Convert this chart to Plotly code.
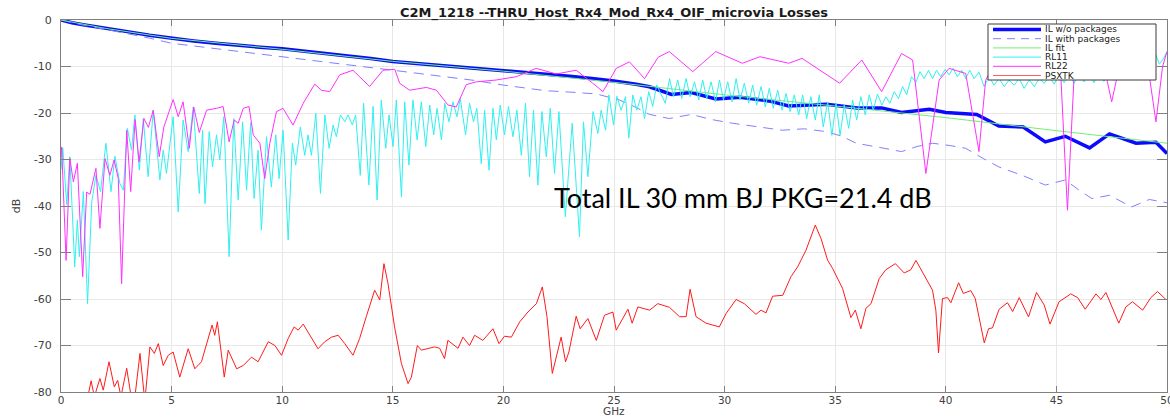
import plotly.graph_objects as go

TITLE = "C2M_1218 --THRU_Host_Rx4_Mod_Rx4_OIF_microvia Losses"
X_LABEL = "GHz"
Y_LABEL = "dB"
NOTE = "Total IL 30 mm BJ PKG=21.4 dB"
SERIES_NAMES = ["IL w/o packages", "IL with packages", "IL fit", "RL11", "RL22", "PSXTK"]
X_TICKS = [0, 5, 10, 15, 20, 25, 30, 35, 40, 45, 50]
Y_TICKS = [-80, -70, -60, -50, -40, -30, -20, -10, 0]
Y_TICK_TEXT = ["-80", "-70", "-60", "-50", "-40", "-30", "-20", "-10", "0"]

# (GHz, dB)
il_wo_pts = [(0, 0), (0.5, -0.6), (1, -1.0), (2, -1.7), (3, -2.5), (4, -3.3), (5, -3.95), (6, -4.5),
             (7, -5.0), (8, -5.5), (9, -5.85), (10, -6.2), (11, -6.7), (12, -7.2), (13, -7.7), (14, -8.3),
             (15, -8.9), (16, -9.3), (17, -9.7), (18, -10.1), (19, -10.5), (20, -10.9), (21, -11.3),
             (22, -11.6), (23, -12.1), (24, -12.6), (25, -13.1), (26, -13.8), (26.6, -14.35), (27.6, -16.0),
             (28.5, -15.6), (29.6, -17.0), (30.7, -16.6), (32.0, -17.4), (32.9, -18.5), (34.6, -18.1),
             (36.0, -18.9), (37.1, -18.9), (38.0, -19.9), (39.25, -19.2), (40.0, -19.9), (41.4, -20.3),
             (42.4, -22.8), (43.5, -23.0), (44.5, -26.2), (45.4, -25.0), (46.5, -27.5), (47.4, -24.5),
             (48.6, -26.5), (49.5, -26.3), (50, -28.7)]

il_with_pts = [(0, 0), (1, -1.1), (2, -2.0), (3, -2.9), (4, -3.9), (5, -5.0), (6, -5.6), (7, -6.2), (8, -6.8),
               (9, -7.4), (10, -7.9), (11, -8.5), (12.15, -9.2), (13.6, -10.0), (15, -10.8), (16.2, -11.5),
               (17.4, -12.2), (18.7, -13.0), (20, -14.0), (21.0, -14.6), (21.9, -15.2), (23.0, -15.5),
               (24.2, -15.9), (25.25, -17.2), (26.0, -18.8), (26.6, -20.3), (27.5, -21.2), (28.5, -20.3),
               (29.4, -21.4), (30.35, -22.2), (31.5, -23.0), (32.6, -23.7), (33.6, -23.4), (34.6, -24.0),
               (35.3, -25.0), (35.95, -26.5), (37.0, -27.4), (38.0, -28.3), (38.7, -27.2), (39.4, -26.5),
               (40.2, -27.0), (40.9, -27.6), (41.7, -29.8), (42.4, -31.6), (43.5, -33.5), (44.5, -35.5),
               (45.4, -34.4), (46.0, -36.5), (46.6, -38.4), (47.4, -37.7), (48.4, -40.2), (49.2, -38.6),
               (50, -39.3)]

il_fit_pts = [(0, 0), (2, -1.8), (5, -3.95), (10, -6.3), (15, -8.9), (20, -11.0), (25, -13.4), (30, -16.1),
              (35, -18.5), (40, -21.0), (45, -23.8), (50, -26.5)]

rl11_pts = [(0.0, -32.2), (0.08, -27.5), (0.26, -39.7), (0.4, -29.4), (0.62, -53.1), (0.74, -43.0),
            (0.83, -50.9), (1.01, -36.9), (1.2, -61.0), (1.39, -39.1), (1.58, -33.4), (1.79, -36.9),
            (2.03, -26.5), (2.26, -36.9), (2.44, -29.3), (2.66, -35.2), (2.82, -36.6), (3.0, -23.3),
            (3.19, -28.0), (3.34, -20.4), (3.54, -32.3), (3.72, -21.2), (3.94, -33.7), (4.17, -19.4),
            (4.47, -34.4), (4.62, -28.0), (4.77, -33.0), (5.07, -20.8), (5.3, -41.3), (5.52, -21.5),
            (5.75, -28.3), (5.98, -18.7), (6.25, -37.3), (6.4, -23.7), (6.51, -39.5), (6.7, -24.0),
            (6.85, -31.6), (7.03, -24.7), (7.18, -30.1), (7.36, -20.8), (7.6, -50.9), (7.81, -21.2),
            (8.01, -38.7), (8.21, -21.9), (8.39, -36.6), (8.57, -22.1), (8.73, -38.4), (8.91, -28.0),
            (9.06, -45.2), (9.29, -25.1), (9.51, -35.9), (9.71, -24.7), (9.86, -34.1), (10.04, -23.7),
            (10.27, -47.3), (10.46, -26.5), (10.61, -31.2), (10.82, -23.0), (11.02, -29.1), (11.17, -24.7),
            (11.32, -29.1), (11.52, -20.1), (11.73, -37.3), (11.93, -20.4), (12.12, -27.6), (12.3, -22.6),
            (12.45, -25.1), (12.63, -20.4), (12.83, -21.9), (12.98, -20.4), (13.17, -22.6), (13.32, -20.4),
            (13.53, -33.4), (13.68, -17.9), (13.92, -35.5), (14.11, -18.6), (14.29, -38.7), (14.48, -17.2),
            (14.68, -27.6), (14.83, -20.4), (15.01, -27.2), (15.16, -17.2), (15.39, -38.0), (15.54, -17.6),
            (15.73, -31.2), (15.91, -17.2), (16.1, -25.8), (16.29, -17.6), (16.49, -27.2), (16.67, -18.3),
            (16.85, -24.7), (17.0, -19.0), (17.2, -25.8), (17.35, -17.9), (17.54, -21.9), (17.72, -17.6),
            (17.9, -20.8), (18.05, -16.9), (18.29, -24.7), (18.47, -17.9), (18.65, -21.9), (18.8, -19.0),
            (19.0, -30.9), (19.15, -19.4), (19.35, -32.3), (19.53, -19.0), (19.68, -25.8), (19.86, -18.3),
            (20.05, -24.7), (20.23, -18.6), (20.43, -25.1), (20.61, -19.4), (20.81, -29.1), (21.0, -17.9),
            (21.18, -33.7), (21.36, -19.4), (21.56, -35.5), (21.74, -19.7), (21.94, -29.4), (22.12, -19.0),
            (22.31, -33.0), (22.51, -19.7), (22.8, -42.3), (23.11, -22.2), (23.44, -46.6), (23.62, -21.9),
            (23.82, -33.7), (24.05, -19.7), (24.27, -24.4), (24.42, -19.4), (24.62, -23.7), (24.77, -16.1),
            (24.98, -22.6), (25.13, -16.4), (25.32, -19.4), (25.52, -16.5), (25.67, -25.4), (25.85, -16.1),
            (26.03, -19.4), (26.22, -16.5), (26.38, -21.2), (26.57, -15.4), (26.75, -18.6), (26.93, -14.0),
            (27.32, -17.9), (27.51, -12.6), (27.69, -16.5), (27.88, -12.9), (28.06, -16.9), (28.26, -12.6),
            (28.44, -16.5), (28.64, -13.3), (28.83, -17.2), (29.01, -12.9), (29.19, -16.9), (29.39, -13.3),
            (29.59, -17.6), (29.77, -12.9), (29.95, -17.2), (30.14, -13.3), (30.34, -17.6), (30.52, -12.6),
            (30.7, -17.2), (30.89, -13.6), (31.09, -17.9), (31.27, -14.0), (31.45, -18.3), (31.65, -14.3),
            (31.84, -18.7), (32.02, -14.7), (32.2, -19.0), (32.4, -15.1), (32.6, -19.4), (32.78, -15.8),
            (32.96, -19.7), (33.15, -16.1), (33.35, -20.4), (33.53, -16.1), (33.71, -21.2), (33.9, -16.5),
            (34.1, -21.5), (34.28, -16.1), (34.46, -23.0), (34.66, -17.6), (34.85, -24.8), (35.04, -17.9),
            (35.22, -24.8), (35.41, -18.3), (35.61, -23.3), (35.79, -17.2), (35.97, -21.5), (36.16, -16.5),
            (36.36, -20.4), (36.54, -16.1), (36.72, -19.4), (36.91, -15.9), (37.11, -18.3), (37.29, -16.5),
            (37.47, -17.9), (37.67, -15.4), (37.86, -16.9), (38.05, -14.3), (38.23, -16.1), (38.45, -12.2),
            (38.65, -13.4), (38.83, -11.1), (39.02, -12.6), (39.22, -10.8), (39.4, -12.6), (39.58, -10.8),
            (39.77, -12.2), (39.97, -10.6), (40.15, -11.8), (40.33, -10.4), (40.52, -12.2), (40.72, -10.8),
            (40.9, -12.6), (41.08, -10.8), (41.28, -12.6), (41.5, -11.2), (41.73, -14.3), (41.96, -12.2),
            (42.18, -14.0), (42.41, -12.6), (42.64, -14.3), (42.86, -12.9), (43.09, -14.0), (43.32, -12.6),
            (43.54, -14.7), (43.77, -12.9), (44.0, -14.3), (44.22, -12.6), (44.45, -13.6), (44.67, -12.2),
            (44.9, -13.8), (45.12, -11.8), (45.35, -13.5), (45.57, -11.5), (45.8, -13.6), (46.02, -11.6),
            (46.25, -13.3), (46.48, -11.4), (46.7, -13.5), (46.93, -11.2), (47.15, -13.2), (47.38, -11.0),
            (47.6, -13.0), (47.83, -10.8), (48.05, -12.8), (48.28, -10.6), (48.5, -12.4), (48.73, -10.2),
            (48.95, -11.6), (49.2, -9.0), (49.35, -10.5), (49.5, -7.5), (49.65, -9.5), (49.8, -8.6),
            (50.0, -6.8)]

rl22_pts = [(0.0, -29.4), (0.03, -27.3), (0.23, -51.7), (0.4, -29.8), (0.56, -34.8), (0.74, -30.8),
            (0.98, -55.2), (1.16, -37.0), (1.31, -37.5), (1.58, -31.9), (1.76, -44.8), (1.99, -29.8),
            (2.21, -33.4), (2.4, -30.1), (2.59, -34.1), (2.74, -56.7), (2.97, -23.7), (3.15, -36.9),
            (3.35, -21.4), (3.53, -30.5), (3.75, -21.2), (3.95, -23.1), (4.17, -19.4), (4.44, -29.4),
            (4.65, -23.0), (5.07, -17.1), (5.3, -20.8), (5.52, -17.6), (5.8, -27.6), (6.0, -18.7),
            (6.25, -24.2), (6.58, -19.4), (7.03, -19.0), (7.33, -18.6), (7.6, -26.2), (7.83, -21.5),
            (8.01, -22.2), (8.24, -19.0), (8.5, -18.6), (8.69, -24.7), (8.99, -26.5), (9.21, -34.1),
            (9.44, -26.5), (9.74, -19.7), (10.04, -19.0), (10.49, -22.6), (10.95, -17.9), (11.47, -13.8),
            (11.77, -15.1), (12.15, -15.4), (12.6, -11.8), (13.2, -10.8), (13.95, -14.3), (14.56, -10.8),
            (15.09, -10.6), (15.31, -13.6), (15.76, -15.1), (16.52, -14.5), (16.97, -15.1), (17.5, -18.3),
            (17.87, -18.7), (18.32, -13.9), (18.77, -13.3), (19.68, -12.9), (20.58, -12.2), (21.48, -10.4),
            (22.39, -11.6), (23.29, -10.8), (24.04, -13.6), (24.5, -15.4), (25.1, -10.4), (25.7, -9.0),
            (26.38, -12.6), (27.0, -8.0), (27.5, -6.8), (28.56, -11.1), (29.6, -6.8), (30.8, -9.3),
            (31.6, -7.9), (32.9, -9.3), (33.5, -8.25), (35.2, -13.6), (36.2, -8.6), (37.1, -15.4),
            (38.0, -7.2), (38.5, -8.6), (39.1, -33.0), (39.7, -12.9), (40.15, -10.4), (40.9, -11.5),
            (41.5, -28.3), (41.8, -13.0), (42.5, -6.0), (43.5, -5.0), (44.5, -7.0), (45.2, -12.0),
            (45.5, -40.9), (45.8, -12.0), (46.5, -6.0), (47.2, -11.0), (47.5, -17.6), (47.8, -11.0),
            (48.5, -5.0), (49.2, -12.0), (49.5, -21.9), (49.8, -10.0), (50.0, -6.8)]

psxtk_pts = [(1.0, -86), (1.23, -80.5), (1.36, -77.6), (1.51, -81), (1.76, -77.1), (1.91, -79.6),
             (2.17, -73.5), (2.41, -78.9), (2.56, -77.5), (2.71, -81), (2.97, -74.9), (3.27, -84),
             (3.57, -71.7), (3.79, -82), (4.02, -70.3), (4.22, -71.7), (4.4, -69.6), (4.62, -74.3),
             (4.85, -72.1), (5.07, -71.4), (5.37, -76.8), (5.75, -70.7), (6.05, -75.0), (6.35, -73.5),
             (6.65, -68.2), (6.83, -65.6), (6.95, -67.8), (7.07, -64.9), (7.38, -76.8), (7.56, -71.0),
             (7.94, -75.0), (8.24, -74.3), (8.61, -72.5), (8.91, -73.5), (9.37, -69.2), (9.67, -70.0),
             (9.97, -72.1), (10.27, -68.5), (10.54, -66.0), (10.72, -66.7), (10.95, -65.4), (11.32, -68.2),
             (11.62, -70.7), (11.92, -69.2), (12.23, -68.2), (12.53, -67.8), (12.83, -69.6), (13.2, -72.1),
             (13.5, -68.5), (13.8, -63.8), (14.18, -58.1), (14.41, -60.2), (14.6, -52.4), (14.78, -56.6),
             (15.08, -66.0), (15.39, -73.9), (15.69, -78.2), (15.84, -76.8), (16.11, -70.0), (16.29, -71.0),
             (16.89, -70.3), (17.12, -70.6), (17.34, -72.8), (17.49, -68.9), (17.95, -70.6), (18.17, -68.2),
             (18.47, -70.0), (18.7, -67.8), (19.07, -68.9), (19.53, -66.4), (19.8, -69.6), (20.05, -68.0),
             (20.36, -68.2), (20.74, -64.9), (21.11, -62.8), (21.49, -61.0), (21.76, -57.4), (21.97, -63.8),
             (22.21, -76.0), (22.61, -68.2), (22.81, -73.5), (22.96, -71.4), (23.29, -63.7), (23.47, -66.4),
             (23.82, -64.2), (24.2, -68.9), (24.57, -63.5), (24.95, -62.8), (25.1, -66.7), (25.63, -62.2),
             (25.82, -65.2), (26.08, -61.7), (26.61, -62.4), (26.98, -61.0), (27.51, -61.8), (27.96, -63.8),
             (28.26, -63.8), (28.44, -57.9), (28.71, -63.8), (29.16, -65.2), (29.76, -66.0), (30.07, -63.1),
             (30.52, -60.1), (30.89, -61.0), (31.19, -62.4), (31.42, -63.3), (31.65, -62.4), (31.87, -63.0),
             (32.17, -59.4), (32.63, -59.2), (33.0, -55.2), (33.3, -53.1), (33.68, -49.5), (34.1, -44.1),
             (34.36, -47.0), (34.66, -51.7), (34.88, -53.4), (35.33, -57.7), (35.71, -64.0), (35.91, -62.4),
             (36.16, -66.4), (36.39, -62.0), (36.62, -61.0), (36.99, -55.6), (37.29, -53.7), (37.72, -52.4),
             (38.12, -54.4), (38.42, -53.7), (38.65, -51.7), (39.03, -54.9), (39.4, -58.1), (39.55, -62.4),
             (39.67, -71.6), (39.85, -59.9), (40.08, -59.7), (40.23, -60.8), (40.58, -56.5), (40.79, -58.8),
             (41.13, -58.2), (41.33, -59.9), (41.74, -69.45), (41.93, -66.4), (42.11, -66.2), (42.41, -62.2),
             (42.79, -60.8), (43.02, -62.7), (43.32, -59.7), (43.74, -63.85), (44.1, -58.6), (44.45, -61.3),
             (44.71, -65.4), (45.12, -60.6), (45.65, -58.9), (45.96, -59.7), (46.3, -62.2), (46.79, -58.9),
             (47.01, -60.1), (47.24, -58.6), (47.82, -65.2), (48.14, -61.7), (48.44, -60.6), (48.9, -62.4),
             (49.27, -59.7), (49.57, -58.4), (49.95, -60.1)]

SERIES_POINTS = [il_wo_pts, il_with_pts, il_fit_pts, rl11_pts, rl22_pts, psxtk_pts]

# ---------------- styling ----------------
STYLES = [
    dict(color="#0a0aff", width=3.5, dash="solid"),
    dict(color="#8080ff", width=1, dash="10px,7px"),
    dict(color="#70f070", width=1, dash="solid"),
    dict(color="#30f0f0", width=1, dash="solid"),
    dict(color="#ff30ff", width=1, dash="solid"),
    dict(color="#ff1a1a", width=1, dash="solid"),
]
LEGEND_COLORS = ["#0a0aff", "#8080ff", "#70f070", "#30f0f0", "#ff30ff", "#ff6060"]

W, H = 1170, 417
L, R, T, B = 61, 1167, 20, 392


def px2x(px):
    return (px - L) / (R - L)


def py2y(py):
    return (B - py) / (B - T)


fig = go.Figure()
for name, pts, st in zip(SERIES_NAMES, SERIES_POINTS, STYLES):
    xs = [p[0] for p in pts]
    ys = [p[1] for p in pts]
    fig.add_trace(go.Scatter(x=xs, y=ys, mode="lines", name=name, line=st,
                             showlegend=False, hoverinfo="skip", cliponaxis=True))

axis_font = dict(family="DejaVu Sans", size=11, color="#404040")
fig.update_xaxes(range=[0, 50], tickvals=X_TICKS, ticks="inside", ticklen=6, tickwidth=1,
                 tickcolor="#808080", showline=True, linecolor="#808080", linewidth=1, mirror="ticks",
                 showgrid=True, gridcolor="#e8e8e8", gridwidth=1, zeroline=False,
                 tickfont=dict(family="DejaVu Sans", size=10.5, color="#404040"),
                 automargin=False, ticklabeloverflow="allow", ticklabelstandoff=-2)
fig.update_yaxes(range=[-80, 0], tickvals=Y_TICKS, ticktext=Y_TICK_TEXT, ticks="inside", ticklen=10,
                 tickwidth=1, tickcolor="#808080", showline=True, linecolor="#808080", linewidth=1,
                 mirror="ticks", showgrid=True, gridcolor="#e8e8e8", gridwidth=1, zeroline=False,
                 tickfont=axis_font, automargin=False, ticklabelstandoff=6, ticklabeloverflow="allow",
                 title=dict(text=Y_LABEL, font=dict(family="DejaVu Sans", size=11, color="#404040"), standoff=10))

shapes = [dict(type="rect", xref="paper", yref="paper", x0=px2x(988), x1=px2x(1156), y0=py2y(80), y1=py2y(24),
               fillcolor="white", line=dict(color="#3a3a3a", width=1), layer="above")]
annotations = []
for i, name in enumerate(SERIES_NAMES):
    row = 29.5 + 9.2 * i
    st = STYLES[i]
    shapes.append(dict(type="line", xref="paper", yref="paper", x0=px2x(993), x1=px2x(1041),
                       y0=py2y(row), y1=py2y(row), layer="above",
                       line=dict(color=LEGEND_COLORS[i], width=st["width"],
                                 dash="8px,6px" if st["dash"] != "solid" else "solid")))
    annotations.append(dict(xref="paper", yref="paper", x=px2x(1044), y=py2y(row), text=name,
                            showarrow=False, xanchor="left", yanchor="middle", borderpad=0,
                            font=dict(family="DejaVu Sans", size=9, color="#202020")))

annotations.append(dict(xref="x", yref="y", x=22.2, y=-38.1, text=NOTE, showarrow=False,
                        xanchor="left", yanchor="middle", font=dict(family="Lato", size=27, color="black")))
annotations.append(dict(xref="paper", yref="paper", x=0.5, y=py2y(411), text=X_LABEL, showarrow=False,
                        xanchor="center", yanchor="middle", borderpad=0,
                        font=dict(family="DejaVu Sans", size=10.5, color="#404040")))

fig.update_layout(
    width=W, height=H, margin=dict(l=L, r=W - R, t=T, b=H - B, pad=0),
    paper_bgcolor="white", plot_bgcolor="white", showlegend=False,
    title=dict(text=TITLE, x=0.5, xref="paper", xanchor="center",
               y=1 - 12 / H, yref="container", yanchor="middle",
               font=dict(family="DejaVu Sans", size=13, color="#1a1a1a", weight="bold")),
    shapes=shapes, annotations=annotations,
)

fig.write_html("out.html")
